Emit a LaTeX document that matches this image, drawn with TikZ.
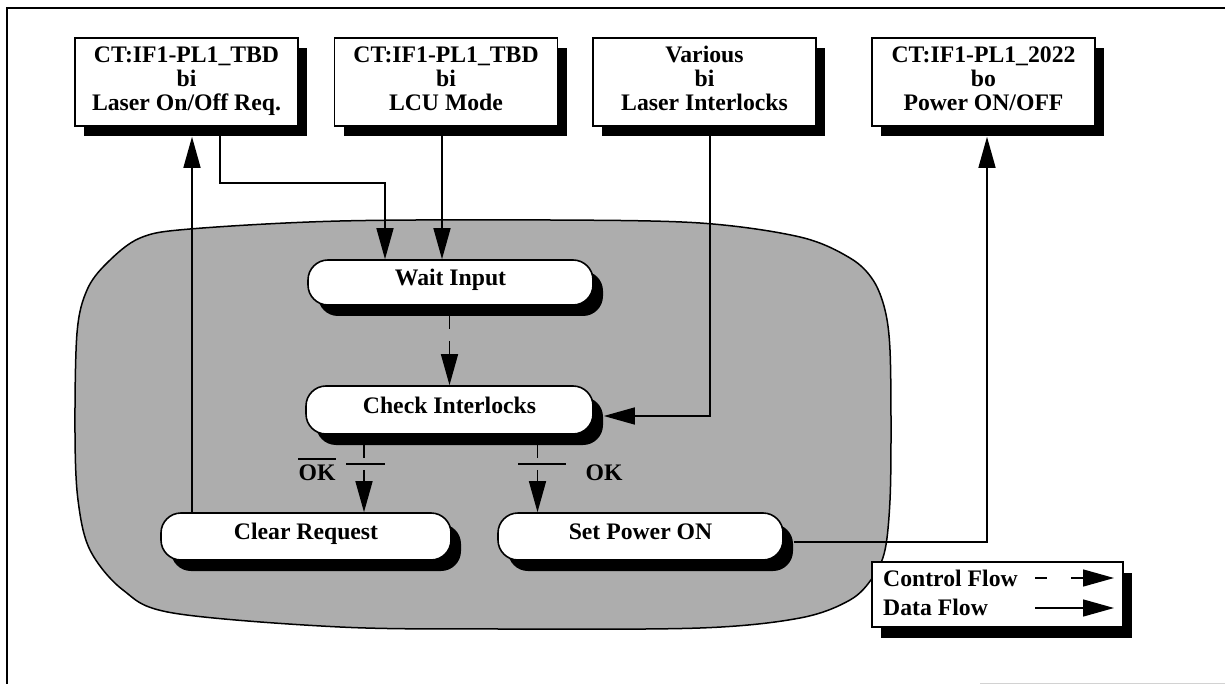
\documentclass[tikz,border=0pt]{standalone}
\usepackage{fontspec}
\setmainfont{Liberation Serif}
\usetikzlibrary{arrows.meta,shadows,calc}
\begin{document}
\begin{tikzpicture}[x=1pt,y=-1pt,
  txt/.style={font=\fontsize{23.7}{24}\selectfont\bfseries},
  sigbox/.style={draw, line width=1.6pt, fill=white, minimum width=223pt, minimum height=88pt,
    align=center, inner sep=0pt, txt,
    drop shadow={shadow xshift=9pt, shadow yshift=-10pt, fill=black, opacity=1}},
  state/.style={draw, line width=1.6pt, fill=white, rounded corners=20pt, minimum height=47pt,
    inner sep=0pt, txt, text height=16pt, text depth=9.4pt,
    drop shadow={shadow xshift=10pt, shadow yshift=-11pt, fill=black, opacity=1}},
  data/.style={line width=1.4pt, -{Triangle[length=31pt,width=17pt]}},
  ctrl/.style={data, dash pattern=on 23pt off 12pt},
]
\useasboundingbox (0,0) rectangle (1225,684);
% frame
\draw[line width=2pt] (7,700) -- (7,8) -- (1240,8);
\draw[gray!35, line width=0.8pt] (980,683) -- (1225,683);

% shaded region
\draw[line width=1.5pt, fill=black!32] plot[smooth cycle, tension=0.55] coordinates {
 (340,221) (550,220) (700,223) (800,237) (850,258) (873,280) (885,310) (890,350)
 (891,430) (890,500) (885,550) (873,577) (850,600) (800,618) (700,628) (500,629)
 (340,627) (173,613) (123,590) (90,550) (78,500) (75,433) (77,333) (87,290)
 (107,263) (140,238) (190,229)};

% signal boxes
\node[sigbox] (b1) at (186.5,82) {CT:IF1-PL1\_TBD\strut\\bi\strut\\Laser On/Off Req.\strut};
\node[sigbox] (b2) at (446,82) {CT:IF1-PL1\_TBD\strut\\bi\strut\\LCU Mode\strut};
\node[sigbox] (b3) at (704.5,82) {Various\strut\\bi\strut\\Laser Interlocks\strut};
\node[sigbox] (b4) at (983.5,82) {CT:IF1-PL1\_2022\strut\\bo\strut\\Power ON/OFF\strut};

% states
\node[state, minimum width=285pt, minimum height=45pt] (wait) at (450.5,282.5) {Wait Input};
\node[state, minimum width=287pt, minimum height=48pt] (check) at (449.5,410) {Check Interlocks};
\node[state, minimum width=290pt] (clear) at (306,536.5) {Clear Request};
\node[state, minimum width=285pt] (setp) at (640.5,536.5) {Set Power ON};

% helper coordinates
\coordinate (c1) at (220,183);
\coordinate (c2) at (385,183);
\coordinate (c3) at (442,0);
\coordinate (c4) at (192,0);
\coordinate (c5) at (710,416);
\coordinate (c6) at (987,542);
\coordinate (c7) at (364,0);
\coordinate (c8) at (537.5,0);

% data flow
\draw[data] (b1.south -| c1) -- (c1) -- (c2) -- (wait.north -| c2);
\draw[data] (b2.south -| c3) -- (wait.north -| c3);
\draw[data] (clear.north -| c4) -- ($(b1.south -| c4)+(0,10)$);
\draw[data] (b3.south -| c5) -- (c5) -- ($(check.east |- c5)+(10,0)$);
\draw[data] ($(setp.east |- c6)+(10,0)$) -- (c6) -- ($(b4.south -| c6)+(0,10)$);

% control flow
\draw[ctrl] (wait.south -| check.north) -- (check.north);
\draw[ctrl] (check.south -| c7) -- (clear.north -| c7);
\draw[ctrl] (check.south -| c8) -- (setp.north -| c8);

% condition bars and labels
\draw[line width=1.5pt] (346,464) -- (385,464);
\draw[line width=1.5pt] (518,464) -- (566,464);
\node[txt, inner sep=0pt] (nok) at (317,473) {OK};
\draw[line width=1.8pt] ([yshift=6pt]nok.north west) -- ([yshift=6pt]nok.north east);
\node[txt, inner sep=0pt] (ok) at (604,473) {OK};

% legend
\node[draw, line width=1.6pt, fill=white, minimum width=251pt, minimum height=65pt, inner sep=0pt,
  drop shadow={shadow xshift=9pt, shadow yshift=-11pt, fill=black, opacity=1}] (leg) at (997.5,594.5) {};
\node[txt, anchor=west, inner sep=0pt] (lc) at (883,578) {Control Flow};
\node[txt, anchor=west, inner sep=0pt] (ld) at (883,607) {Data Flow};
\coordinate (lc1) at (1035,578);
\coordinate (lc2) at (1114,578);
\coordinate (ld1) at (1035,608);
\coordinate (ld2) at (1114,608);
\draw[data, dash pattern=on 12pt off 24pt] (lc1) -- (lc2);
\draw[data] (ld1) -- (ld2);
\end{tikzpicture}
\end{document}
